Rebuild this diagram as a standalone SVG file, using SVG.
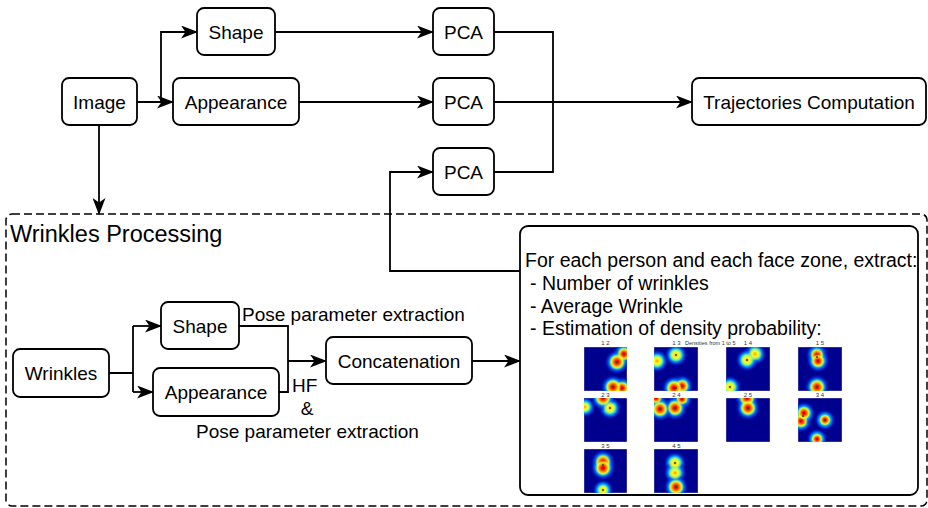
<svg xmlns="http://www.w3.org/2000/svg" width="928" height="508" viewBox="0 0 928 508">
<style>
.n{fill:#fff;stroke:#000;stroke-width:1.8}
.t{font-family:"Liberation Sans",Arial,sans-serif;font-size:19px;fill:#000}
.c{text-anchor:middle}
.e{fill:none;stroke:#000;stroke-width:1.8}
.a{marker-end:url(#arr)}
.hm{fill:#00008f;stroke:#9a9ab8;stroke-width:0.6}
.sl{font-family:"Liberation Sans",Arial,sans-serif;font-size:6px;fill:#333;text-anchor:middle}
.h{fill:url(#halo)}
.r{fill:url(#coreh)}
.y{fill:url(#corem)}
.dot{fill:#1a5a1a}
</style>
<defs>
<marker id="arr" markerUnits="userSpaceOnUse" markerWidth="17" markerHeight="13" refX="16" refY="6.5" orient="auto">
<path d="M0,0 L17,6.5 L0,13 L4.5,6.5 z" fill="#000"/>
</marker>
<radialGradient id="halo">
<stop offset="0" stop-color="#60ffa0"/>
<stop offset="0.35" stop-color="#20e8ff"/>
<stop offset="0.6" stop-color="#0090ff" stop-opacity="0.9"/>
<stop offset="0.8" stop-color="#0030e0" stop-opacity="0.5"/>
<stop offset="1" stop-color="#00008f" stop-opacity="0"/>
</radialGradient>
<radialGradient id="coreh">
<stop offset="0" stop-color="#b00000"/>
<stop offset="0.25" stop-color="#ff2000"/>
<stop offset="0.5" stop-color="#ffa000"/>
<stop offset="0.72" stop-color="#ffff20" stop-opacity="0.8"/>
<stop offset="1" stop-color="#80ff80" stop-opacity="0"/>
</radialGradient>
<radialGradient id="corem">
<stop offset="0" stop-color="#ffa000"/>
<stop offset="0.4" stop-color="#ffff20"/>
<stop offset="0.7" stop-color="#c0ff50" stop-opacity="0.7"/>
<stop offset="1" stop-color="#80ff80" stop-opacity="0"/>
</radialGradient>
</defs>

<g id="connectors">
<path class="e a" d="M137,102 H173"/>
<path class="e a" d="M161,102 V32 H197"/>
<path class="e a" d="M99,125 V214"/>
<path class="e a" d="M275,32 H433"/>
<path class="e a" d="M299,102 H433"/>
<path class="e" d="M494,32 H553 V172 H494"/>
<path class="e a" d="M494,102 H692"/>
<path class="e a" d="M520,271 H390 V172 H433"/>
<path class="e" d="M109,373 H133 M133,326 V392"/>
<path class="e a" d="M133,326 H161"/>
<path class="e a" d="M133,392 H153"/>
<path class="e" d="M239,326 H288 V392 H279"/>
<path class="e a" d="M288,361 H326"/>
<path class="e a" d="M472,361 H520"/>
</g>

<g id="wrinkles-processing">
<rect x="6" y="214" width="921" height="292" rx="6" fill="none" stroke="#000" stroke-width="1.5" stroke-dasharray="8 4"/>
<text class="t" x="10" y="242" style="font-size:23.5px">Wrinkles Processing</text>
</g>

<g id="image"><rect class="n" x="62" y="78" width="75" height="47" rx="7"/><text class="t c" x="99.5" y="108.5">Image</text></g>
<g id="shape"><rect class="n" x="197" y="8" width="78" height="47" rx="7"/><text class="t c" x="236" y="38.5">Shape</text></g>
<g id="appearance"><rect class="n" x="173" y="78" width="126" height="47" rx="7"/><text class="t c" x="236" y="108.5">Appearance</text></g>
<g id="pca1"><rect class="n" x="433" y="8" width="61" height="47" rx="7"/><text class="t c" x="463.5" y="38.5">PCA</text></g>
<g id="pca2"><rect class="n" x="433" y="78" width="61" height="47" rx="7"/><text class="t c" x="463.5" y="108.5">PCA</text></g>
<g id="pca3"><rect class="n" x="433" y="148" width="61" height="47" rx="7"/><text class="t c" x="463.5" y="178.5">PCA</text></g>
<g id="trajectories"><rect class="n" x="692" y="78" width="234" height="47" rx="7"/><text class="t c" x="809" y="108.5">Trajectories Computation</text></g>

<g id="wrinkles"><rect class="n" x="13" y="349" width="96" height="48" rx="7"/><text class="t c" x="61" y="380">Wrinkles</text></g>
<g id="shape2"><rect class="n" x="161" y="302" width="78" height="47" rx="7"/><text class="t c" x="200" y="332.5">Shape</text></g>
<g id="appearance2"><rect class="n" x="153" y="368" width="126" height="48" rx="7"/><text class="t c" x="216" y="399">Appearance</text></g>
<g id="concatenation"><rect class="n" x="326" y="337" width="146" height="47" rx="7"/><text class="t c" x="399" y="367.5">Concatenation</text></g>

<g id="labels">
<text class="t" x="242" y="320.5">Pose parameter extraction</text>
<text class="t" x="292" y="392">HF</text>
<text class="t c" x="307" y="415">&amp;</text>
<text class="t" x="196" y="438">Pose parameter extraction</text>
</g>

<g id="features">
<rect class="n" x="520" y="226" width="398" height="269" rx="8"/>
<text class="t" x="525" y="267" style="font-size:19.5px">For each person and each face zone, extract:</text>
<text class="t" x="530" y="290" style="font-size:19.5px">- Number of wrinkles</text>
<text class="t" x="530" y="313" style="font-size:19.5px">- Average Wrinkle</text>
<text class="t" x="530" y="335" style="font-size:19.5px">- Estimation of density probability:</text>

<text class="sl" x="605.5" y="345">1 2</text>
<text class="sl" x="676.5" y="345">1 3</text>
<text class="sl" x="685" y="345" style="text-anchor:start;font-size:5.5px">Densities from 1 to 5</text>
<text class="sl" x="748" y="345">1 4</text>
<text class="sl" x="820" y="345">1 5</text>
<text class="sl" x="605.5" y="396.5">2 3</text>
<text class="sl" x="676.5" y="396.5">2 4</text>
<text class="sl" x="748" y="396.5">2 5</text>
<text class="sl" x="820" y="396.5">3 4</text>
<text class="sl" x="605.5" y="447.5">3 5</text>
<text class="sl" x="676.5" y="447.5">4 5</text>

<svg x="584" y="347" width="43" height="44"><rect class="hm" width="43" height="44"/>
<circle class="h" cx="40" cy="7" r="12"/><circle class="h" cx="33" cy="15" r="13"/><circle class="h" cx="38" cy="41" r="12"/><circle class="h" cx="29" cy="40" r="13"/>
<circle class="r" cx="40" cy="7" r="7"/><circle class="r" cx="33" cy="15" r="8"/><circle class="r" cx="38" cy="41" r="7"/><circle class="r" cx="29" cy="40" r="8"/>
<circle class="dot" cx="33" cy="15" r="1"/><circle class="dot" cx="29" cy="40" r="1"/></svg>

<svg x="654" y="347" width="44" height="44"><rect class="hm" width="44" height="44"/>
<circle class="h" cx="22" cy="8" r="12"/><circle class="h" cx="3" cy="14" r="12"/><circle class="h" cx="28" cy="39" r="12"/><circle class="h" cx="20" cy="41" r="13"/>
<circle class="y" cx="22" cy="8" r="7"/><circle class="y" cx="3" cy="14" r="7"/><circle class="r" cx="28" cy="39" r="7"/><circle class="r" cx="20" cy="41" r="8"/>
<circle class="dot" cx="22" cy="8" r="1"/><circle class="dot" cx="22" cy="41" r="1"/></svg>

<svg x="726" y="347" width="44" height="44"><rect class="hm" width="44" height="44"/>
<circle class="h" cx="29" cy="7" r="12"/><circle class="h" cx="21" cy="13" r="12"/><circle class="h" cx="4" cy="40" r="12"/>
<circle class="y" cx="29" cy="7" r="7"/><circle class="y" cx="21" cy="13" r="7"/><circle class="y" cx="4" cy="40" r="7"/>
<circle class="dot" cx="21" cy="13" r="1"/><circle class="dot" cx="4" cy="40" r="1"/></svg>

<svg x="798" y="347" width="44" height="44"><rect class="hm" width="44" height="44"/>
<circle class="h" cx="19" cy="8" r="12"/><circle class="h" cx="20" cy="14" r="12"/><circle class="h" cx="19" cy="40" r="13"/>
<circle class="r" cx="19" cy="8" r="7"/><circle class="r" cx="20" cy="14" r="7"/><circle class="r" cx="19" cy="40" r="8"/>
<circle class="dot" cx="19" cy="10" r="1"/><circle class="dot" cx="19" cy="40" r="1"/></svg>

<svg x="584" y="398" width="43" height="44"><rect class="hm" width="43" height="44"/>
<circle class="h" cx="1" cy="9" r="11"/><circle class="h" cx="26" cy="10" r="12"/><circle class="h" cx="19" cy="0" r="13"/>
<circle class="y" cx="1" cy="9" r="6"/><circle class="y" cx="26" cy="10" r="7"/><circle class="r" cx="19" cy="0" r="8"/>
<circle class="dot" cx="26" cy="10" r="1"/></svg>

<svg x="654" y="398" width="44" height="44"><rect class="hm" width="44" height="44"/>
<circle class="h" cx="2" cy="0" r="11"/><circle class="h" cx="28" cy="1" r="11"/><circle class="h" cx="21" cy="10" r="13"/><circle class="h" cx="6" cy="11" r="13"/>
<circle class="r" cx="2" cy="0" r="6"/><circle class="r" cx="28" cy="1" r="6"/><circle class="r" cx="21" cy="10" r="8"/><circle class="r" cx="6" cy="11" r="8"/>
<circle class="dot" cx="6" cy="11" r="1"/><circle class="dot" cx="21" cy="10" r="1"/></svg>

<svg x="726" y="398" width="44" height="44"><rect class="hm" width="44" height="44"/>
<circle class="h" cx="21" cy="0" r="13"/><circle class="h" cx="22" cy="10" r="13"/>
<circle class="r" cx="21" cy="0" r="8"/><circle class="r" cx="22" cy="10" r="8"/>
<circle class="dot" cx="22" cy="10" r="1"/></svg>

<svg x="798" y="398" width="44" height="44"><rect class="hm" width="44" height="44"/>
<circle class="h" cx="27" cy="22" r="11"/><circle class="h" cx="19" cy="41" r="11"/><circle class="h" cx="3" cy="23" r="12"/><circle class="h" cx="6" cy="15" r="12"/>
<circle class="r" cx="27" cy="22" r="6"/><circle class="r" cx="19" cy="41" r="6"/><circle class="r" cx="3" cy="23" r="7"/><circle class="r" cx="6" cy="15" r="7"/>
<circle class="dot" cx="27" cy="22" r="1"/><circle class="dot" cx="5" cy="18" r="1"/></svg>

<svg x="584" y="449" width="43" height="44"><rect class="hm" width="43" height="44"/>
<circle class="h" cx="19" cy="41" r="11"/><circle class="h" cx="19" cy="13" r="13"/><circle class="h" cx="19" cy="19" r="13"/>
<circle class="y" cx="19" cy="41" r="6"/><circle class="r" cx="19" cy="13" r="8"/><circle class="r" cx="19" cy="19" r="8"/>
<circle class="dot" cx="19" cy="16" r="1"/><circle class="dot" cx="19" cy="41" r="1"/></svg>

<svg x="654" y="449" width="44" height="44"><rect class="hm" width="44" height="44"/>
<circle class="h" cx="21" cy="14" r="12"/><circle class="h" cx="21" cy="24" r="12"/><circle class="h" cx="22" cy="38" r="13"/>
<circle class="y" cx="21" cy="14" r="7"/><circle class="y" cx="21" cy="24" r="7"/><circle class="r" cx="22" cy="38" r="8"/>
<circle class="dot" cx="21" cy="14" r="1"/><circle class="dot" cx="22" cy="38" r="1"/></svg>
</g>
</svg>
